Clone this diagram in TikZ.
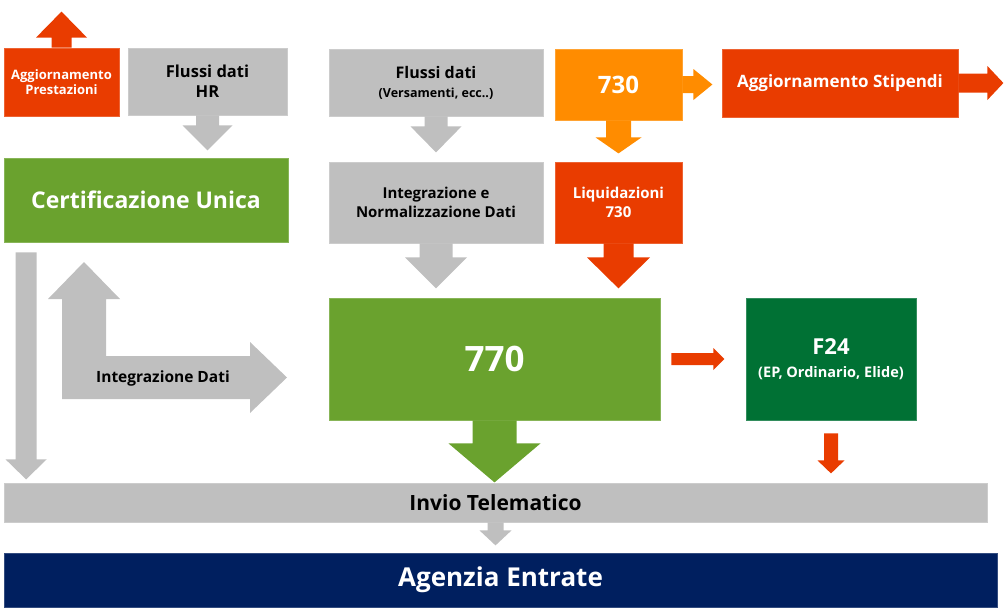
\documentclass[tikz,border=0pt]{standalone}
\usepackage{fontspec}
\setmainfont{Open Sans}
\usepackage{tikz}
\usetikzlibrary{shapes,positioning,calc}

\definecolor{redor}{HTML}{E93C00}
\definecolor{orng}{HTML}{FF8C00}
\definecolor{grey}{HTML}{BFBFBF}
\definecolor{grn}{HTML}{6AA22E}
\definecolor{dkgrn}{HTML}{007134}
\definecolor{navy}{HTML}{001F5F}

% block arrows: colour, start, shaft length, head length, half shaft, half head
\newcommand{\dnarr}[6]{\fill[#1] (#2) ++(-#5,0) -- ++(0,#3) -- ++({#5-#6},0) -- ++(#6,#4) -- ++(#6,-#4) -- ++({#5-#6},0) -- ++(0,-#3) -- cycle;}
\newcommand{\uparr}[6]{\fill[#1] (#2) ++(-#5,0) -- ++(0,-#3) -- ++({#5-#6},0) -- ++(#6,-#4) -- ++(#6,#4) -- ++({#5-#6},0) -- ++(0,#3) -- cycle;}
\newcommand{\rtarr}[6]{\fill[#1] (#2) ++(0,-#5) -- ++(#3,0) -- ++(0,{#5-#6}) -- ++(#4,#6) -- ++(-#4,#6) -- ++(0,{#5-#6}) -- ++(-#3,0) -- cycle;}

\tikzset{
	box/.style={fill=#1, draw=#1!80!white, line width=0.8pt, inner sep=0pt, text=white, align=center},
	greybox/.style={box=grey, text=black},
}

\begin{document}
\begin{tikzpicture}[x=1pt,y=-1pt]
	\useasboundingbox (0,0) rectangle (1004,614);

	\node[box=redor, minimum width=115pt, minimum height=68pt, font=\bfseries\fontsize{13}{15.5}\selectfont] (ap) at (61.5,82) {Aggiornamento\\Prestazioni};
	\node[greybox, minimum width=159pt, minimum height=67pt, font=\bfseries\fontsize{16.5}{20}\selectfont] (hr) at (207.5,81.5) {Flussi dati\\HR};
	\node[box=grn, minimum width=284pt, minimum height=84pt, font=\bfseries\fontsize{23}{27}\selectfont] (cu) at (146,200) {Certificazione Unica};

	\node[greybox, minimum width=214pt, minimum height=67pt, font=\bfseries\fontsize{16}{19}\selectfont] (fd) at (436,82.5) {Flussi dati\\{\fontsize{12.5}{19}\selectfont (Versamenti, ecc..)}};
	\node[box=orng, minimum width=127pt, minimum height=71pt, font=\bfseries\fontsize{24}{28}\selectfont] (s730) at (618.5,84.5) {730};
	\node[box=redor, minimum width=236pt, minimum height=68pt, font=\bfseries\fontsize{17}{20}\selectfont] (as) at (840,83) {Aggiornamento Stipendi};

	\node[greybox, minimum width=214pt, minimum height=81pt, font=\bfseries\fontsize{15}{19}\selectfont] (inn) at (436,202.5) {Integrazione e\\Normalizzazione Dati};
	\node[box=redor, minimum width=127pt, minimum height=81pt, font=\bfseries\fontsize{15}{19}\selectfont] (liq) at (618.5,202.5) {Liquidazioni\\730};

	\node[box=grn, minimum width=331pt, minimum height=122pt, font=\bfseries\fontsize{35}{40}\selectfont] (s770) at (494.5,359) {770};
	\node[box=dkgrn, minimum width=170pt, minimum height=122pt, font=\bfseries\fontsize{22}{23}\selectfont] (f24) at (831,359) {F24\\{\fontsize{14.5}{23}\selectfont (EP, Ordinario, Elide)}};

	\node[greybox, minimum width=983pt, minimum height=39pt, font=\bfseries\fontsize{21}{24}\selectfont] (inv) at (495.5,502.5) {Invio Telematico};
	\node[box=navy, minimum width=993pt, minimum height=54pt, font=\bfseries\fontsize{26}{30}\selectfont] (ae) at (500.5,580) {Agenzia Entrate};

	\uparr{redor}{ap.north}{10}{26}{10}{25.5}
	\dnarr{grey}{hr.south}{10}{25}{11.5}{25}
	\dnarr{grey}{fd.south}{10}{26}{11.5}{25.5}
	\rtarr{orng}{s730.east}{11}{19}{8.5}{15.5}
	\dnarr{orng}{s730.south}{17}{16}{12.5}{23}
	\rtarr{redor}{as.east}{29}{16}{9.5}{17}
	\dnarr{grey}{inn.south}{14}{31}{16.5}{31}
	\dnarr{redor}{liq.south}{14}{31}{15}{31.5}
	\dnarr{grn}{s770.south}{23}{39}{22}{46}
	\rtarr{redor}{$(s770.east)+(11,0)$}{42}{11}{6}{11}
	\dnarr{redor}{$(f24.south)+(0,13)$}{27}{13}{7}{13.5}
	\dnarr{grey}{inv.south}{8}{15}{8}{16}
	\dnarr{grey}{$(cu.south west)+(22.5,10)$}{207}{20}{10.5}{20.5}

	\fill[grey] (62,399) -- (62,299) -- (48,299) -- (84,262) -- (120,299) -- (106,299) -- (106,356) -- (250,356) -- (250,342) -- (287,377.5) -- (250,413) -- (250,399) -- cycle;
	\node[font=\bfseries\fontsize{15.5}{18}\selectfont, inner sep=0pt] (intd) at (163,378) {Integrazione Dati};
\end{tikzpicture}
\end{document}
